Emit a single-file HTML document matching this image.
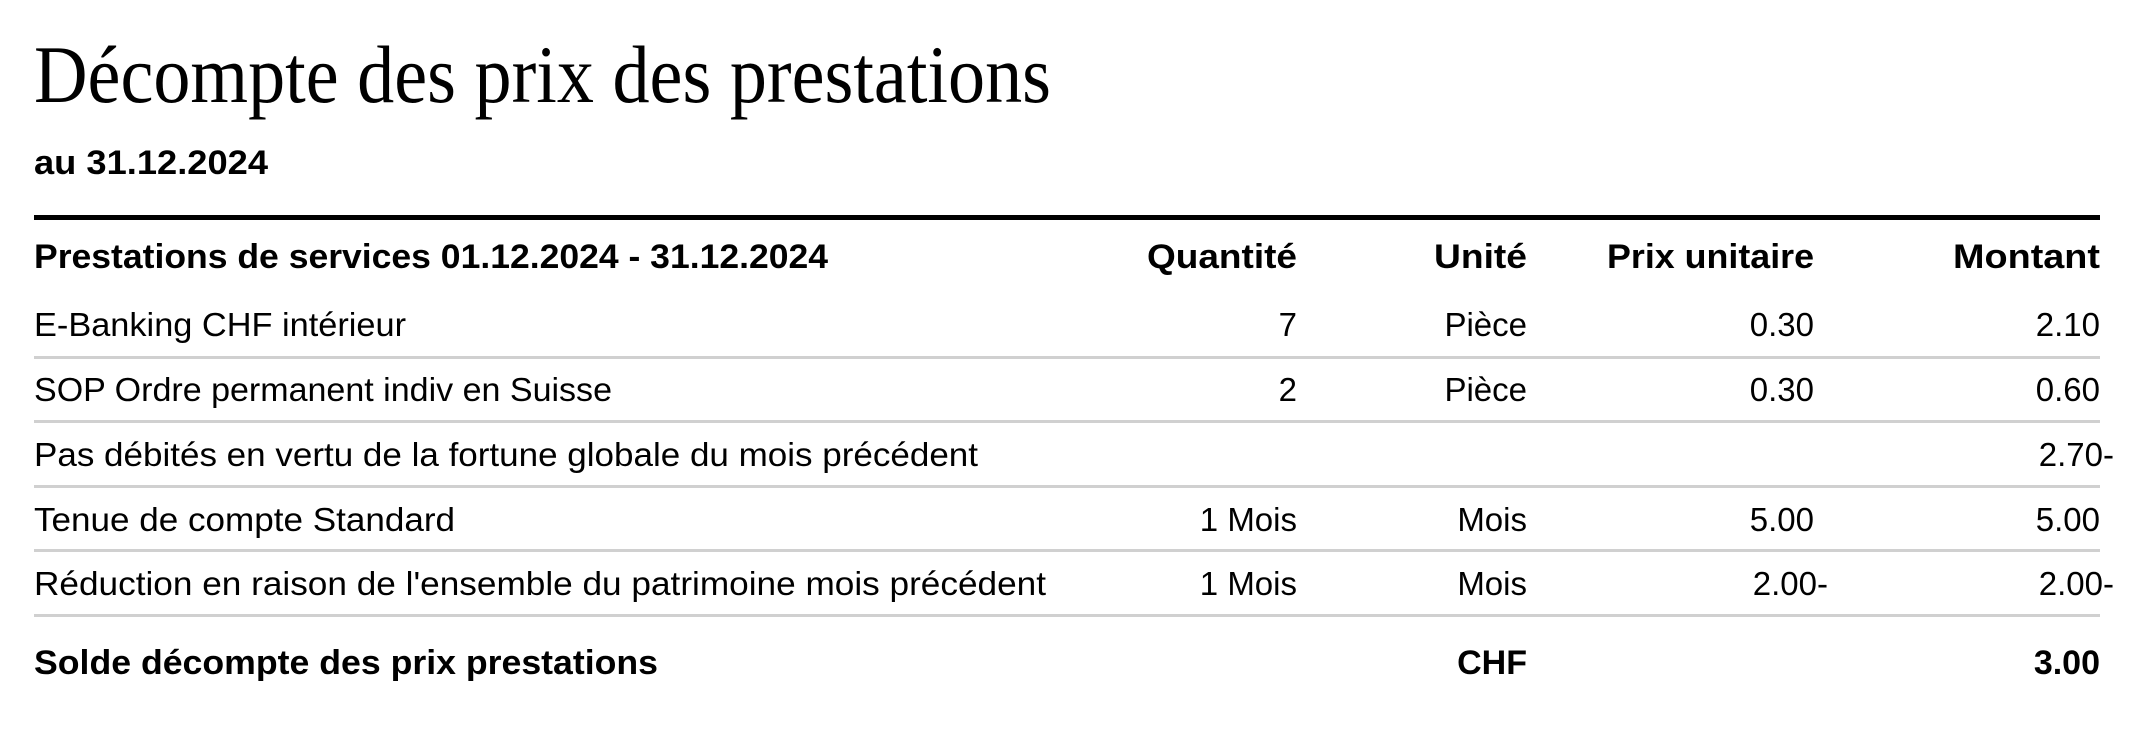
<!DOCTYPE html>
<html><head><meta charset="utf-8"><style>
html,body{margin:0;padding:0;background:#fff;}
svg{display:block}
text{font-family:"Liberation Sans",sans-serif;fill:#000;}
.b{font-weight:bold;font-size:34px}
.r{font-size:33px}
</style></head><body>
<svg width="2135" height="749" viewBox="0 0 2135 749" xmlns="http://www.w3.org/2000/svg">
<text x="34" y="102" style="font-family:'Liberation Serif',serif;font-size:82px" textLength="1017" lengthAdjust="spacingAndGlyphs">Décompte des prix des prestations</text>
<text class="b" x="34" y="174" textLength="234" lengthAdjust="spacingAndGlyphs">au 31.12.2024</text>
<rect x="34" y="215" width="2066" height="5" fill="#000"/>
<text class="b" x="34" y="268" textLength="794" lengthAdjust="spacingAndGlyphs">Prestations de services 01.12.2024 - 31.12.2024</text>
<text class="b" x="1147" y="268" textLength="150" lengthAdjust="spacingAndGlyphs">Quantité</text>
<text class="b" x="1434" y="268" textLength="93" lengthAdjust="spacingAndGlyphs">Unité</text>
<text class="b" x="1607" y="268" textLength="207" lengthAdjust="spacingAndGlyphs">Prix unitaire</text>
<text class="b" x="1953" y="268" textLength="147" lengthAdjust="spacingAndGlyphs">Montant</text>

<text class="r" x="34" y="336" textLength="372" lengthAdjust="spacingAndGlyphs">E-Banking CHF intérieur</text>
<text class="r" x="1297" y="336" text-anchor="end">7</text>
<text class="r" x="1527" y="336" text-anchor="end">Pièce</text>
<text class="r" x="1814" y="336" text-anchor="end">0.30</text>
<text class="r" x="2100" y="336" text-anchor="end">2.10</text>
<rect x="34" y="356" width="2066" height="3" fill="#d0d0d0"/>

<text class="r" x="34" y="401" textLength="578" lengthAdjust="spacingAndGlyphs">SOP Ordre permanent indiv en Suisse</text>
<text class="r" x="1297" y="401" text-anchor="end">2</text>
<text class="r" x="1527" y="401" text-anchor="end">Pièce</text>
<text class="r" x="1814" y="401" text-anchor="end">0.30</text>
<text class="r" x="2100" y="401" text-anchor="end">0.60</text>
<rect x="34" y="420" width="2066" height="3" fill="#d0d0d0"/>

<text class="r" x="34" y="466" textLength="944" lengthAdjust="spacingAndGlyphs">Pas débités en vertu de la fortune globale du mois précédent</text>
<text class="r" x="2114" y="466" text-anchor="end">2.70-</text>
<rect x="34" y="485" width="2066" height="3" fill="#d0d0d0"/>

<text class="r" x="34" y="531" textLength="421" lengthAdjust="spacingAndGlyphs">Tenue de compte Standard</text>
<text class="r" x="1297" y="531" text-anchor="end">1 Mois</text>
<text class="r" x="1527" y="531" text-anchor="end">Mois</text>
<text class="r" x="1814" y="531" text-anchor="end">5.00</text>
<text class="r" x="2100" y="531" text-anchor="end">5.00</text>
<rect x="34" y="549" width="2066" height="3" fill="#d0d0d0"/>

<text class="r" x="34" y="595" textLength="1012" lengthAdjust="spacingAndGlyphs">Réduction en raison de l'ensemble du patrimoine mois précédent</text>
<text class="r" x="1297" y="595" text-anchor="end">1 Mois</text>
<text class="r" x="1527" y="595" text-anchor="end">Mois</text>
<text class="r" x="1828" y="595" text-anchor="end">2.00-</text>
<text class="r" x="2114" y="595" text-anchor="end">2.00-</text>
<rect x="34" y="614" width="2066" height="3" fill="#d0d0d0"/>

<text class="b" x="34" y="674" textLength="624" lengthAdjust="spacingAndGlyphs">Solde décompte des prix prestations</text>
<text class="b" x="1527" y="674" text-anchor="end">CHF</text>
<text class="b" x="2100" y="674" text-anchor="end">3.00</text>
</svg>
</body></html>
